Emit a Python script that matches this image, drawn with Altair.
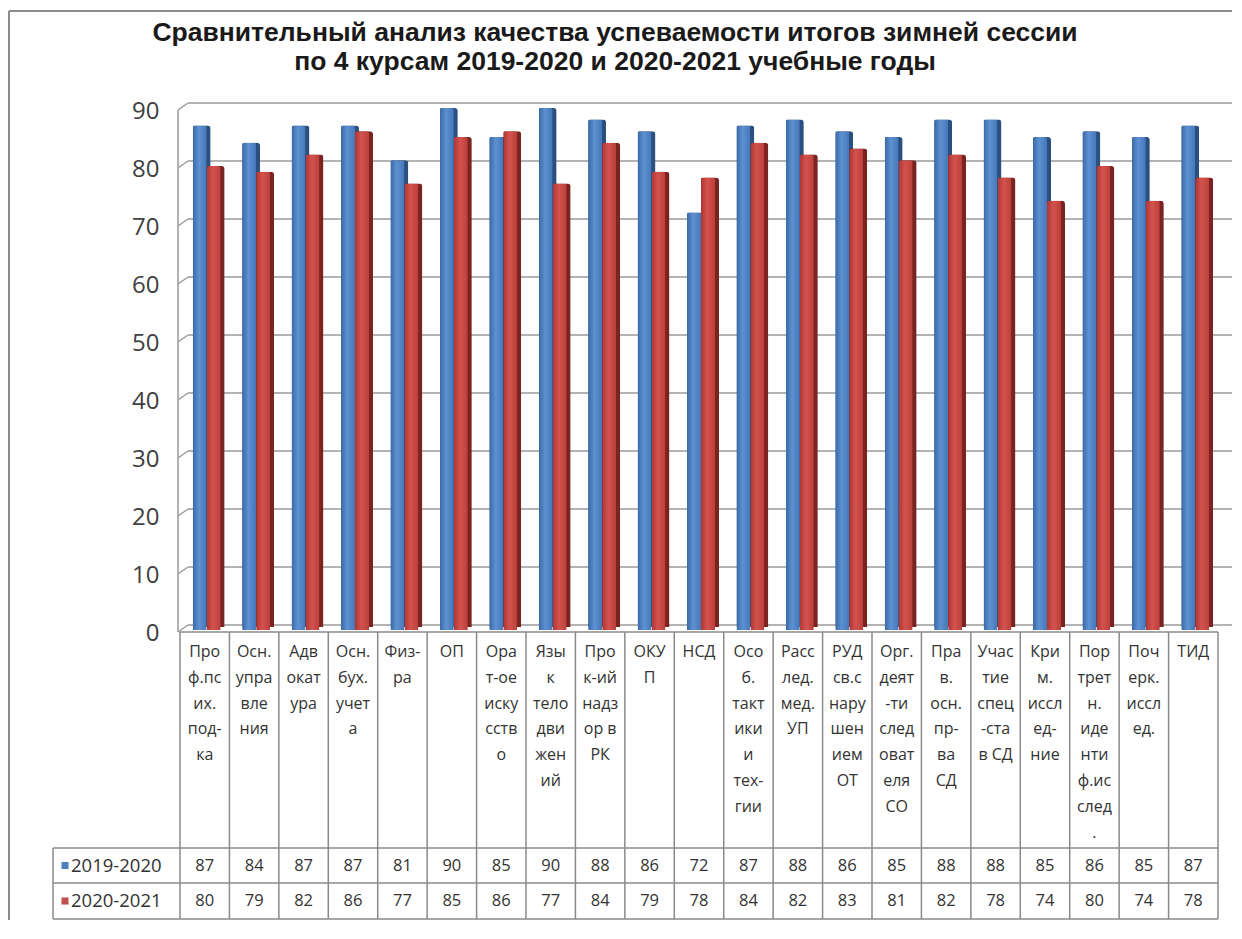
import altair as alt
import pandas as pd

title_text = ("Сравнительный анализ качества успеваемости итогов зимней сессии\n"
              "по 4 курсам 2019-2020 и 2020-2021 учебные годы")

categories = [
    "Про\nф.пс\nих.\nпод-\nка",
    "Осн.\nупра\nвле\nния",
    "Адв\nокат\nура",
    "Осн.\nбух.\nучет\nа",
    "Физ-\nра",
    "ОП",
    "Ора\nт-ое\nиску\nсств\nо",
    "Язы\nк\nтело\nдви\nжен\nий",
    "Про\nк-ий\nнадз\nор в\nРК",
    "ОКУ\nП",
    "НСД",
    "Осо\nб.\nтакт\nики\nи\nтех-\nгии",
    "Расс\nлед.\nмед.\nУП",
    "РУД\nсв.с\nнару\nшен\nием\nОТ",
    "Орг.\nдеят\n-ти\nслед\nоват\nеля\nСО",
    "Пра\nв.\nосн.\nпр-\nва\nСД",
    "Учас\nтие\nспец\n-ста\nв СД",
    "Кри\nм.\nиссл\nед-\nние",
    "Пор\nтрет\nн.\nиде\nнти\nф.ис\nслед\n.",
    "Поч\nерк.\nиссл\nед.",
    "ТИД",
]

series_names = ["2019-2020", "2020-2021"]
values_2019 = [87, 84, 87, 87, 81, 90, 85, 90, 88, 86, 72, 87, 88, 86, 85, 88, 88, 85, 86, 85, 87]
values_2020 = [80, 79, 82, 86, 77, 85, 86, 77, 84, 79, 78, 84, 82, 83, 81, 82, 78, 74, 80, 74, 78]
y_ticks = list(range(0, 91, 10))

front_colors = [
    ["#3a68a6", "#5d91d2", "#4576b8"],
    ["#ad3633", "#d4524d", "#b93f3b"],
]
side_colors = ["#2b4f80", "#7a2321"]
legend_colors = ["#4f81bd", "#c0504d"]

W = 1038
H = 522
LINE = "#8a8a8a"
TXT = "#333333"
FONT = "Open Sans"

rows = []
for s, vals in zip(series_names, [values_2019, values_2020]):
    for c, v in zip(categories, vals):
        rows.append({"cat": c, "series": s, "value": v})
df = pd.DataFrame(rows)
grid_df = pd.DataFrame({"value": y_ticks})
cat_df = pd.DataFrame({"cat": categories})
title_df = pd.DataFrame({"t": [title_text]})
legend_df = pd.DataFrame({"series": series_names, "color": legend_colors})
one = pd.DataFrame({"d": [0]})

xscale = alt.Scale(domain=categories, paddingInner=0, paddingOuter=0)
yscale = alt.Scale(domain=[0, 90], nice=False, zero=True)
yaxis = alt.Axis(values=y_ticks, title=None, domain=False, ticks=False, grid=False,
                 labelFontSize=24, labelColor="#404040", labelFont=FONT,
                 labelPadding=21, labelOffset=3)

X = alt.X("cat:N", scale=xscale, axis=None, sort=categories)
Y = alt.Y("value:Q", scale=yscale, axis=yaxis)

layers = []

# frame
layers.append(alt.Chart(one).mark_rule(color="#8c8c8c", strokeWidth=2).encode(
    x=alt.value(-171), x2=alt.value(W + 14), y=alt.value(-97)))
layers.append(alt.Chart(one).mark_rule(color="#8c8c8c", strokeWidth=2).encode(
    x=alt.value(-171), y=alt.value(-97), y2=alt.value(H + 290)))

# back wall gridlines
layers.append(alt.Chart(grid_df).mark_rule(color="#9a9a9a", strokeWidth=1.5, yOffset=-5).encode(
    x=alt.value(8), x2=alt.value(W + 15), y=Y))
layers.append(alt.Chart(grid_df).mark_rule(color="#9a9a9a", strokeWidth=1.5, yOffset=2, y2Offset=-5).encode(
    x=alt.value(-2), x2=alt.value(8), y=Y, y2="value:Q"))
layers.append(alt.Chart(one).mark_rule(color="#9a9a9a", strokeWidth=1.5).encode(
    x=alt.value(-2), y=alt.value(2), y2=alt.value(H + 2)))

# bars
front_dx = [-5, 9]
side_dx = [-3, 11]
for i, s in enumerate(series_names):
    sub = alt.Chart(df).transform_filter(alt.datum.series == s)
    layers.append(sub.mark_bar(color=side_colors[i], width=18, xOffset=side_dx[i], yOffset=-3,
                               cornerRadiusTopRight=3, cornerRadiusTopLeft=2).encode(x=X, y=Y))
for i, s in enumerate(series_names):
    sub = alt.Chart(df).transform_filter(alt.datum.series == s)
    grad = alt.Gradient(gradient="linear", x1=0, x2=1, y1=0, y2=0,
                        stops=[alt.GradientStop(offset=0, color=front_colors[i][0]),
                               alt.GradientStop(offset=0.45, color=front_colors[i][1]),
                               alt.GradientStop(offset=1, color=front_colors[i][2])])
    layers.append(sub.mark_bar(color=grad, width=14, xOffset=front_dx[i],
                               cornerRadiusTopLeft=2, cornerRadiusTopRight=2).encode(x=X, y=Y))

# data table
TOP = 524
R1 = 740
R2 = 775
R3 = 811
LEFT = -127
layers.append(alt.Chart(cat_df).mark_rule(color=LINE, strokeWidth=1.5).encode(
    x=alt.X("cat:N", scale=xscale, axis=None, sort=categories, bandPosition=0),
    y=alt.value(TOP), y2=alt.value(R3)))
layers.append(alt.Chart(one).mark_rule(color=LINE, strokeWidth=1.5).encode(
    x=alt.value(W), y=alt.value(TOP), y2=alt.value(R3)))
layers.append(alt.Chart(one).mark_rule(color=LINE, strokeWidth=1.5).encode(
    x=alt.value(LEFT), y=alt.value(R1), y2=alt.value(R3)))
layers.append(alt.Chart(one).mark_rule(color=LINE, strokeWidth=1.5).encode(
    x=alt.value(0), x2=alt.value(W), y=alt.value(TOP)))
for yy in [R1, R2, R3]:
    layers.append(alt.Chart(one).mark_rule(color=LINE, strokeWidth=1.5).encode(
        x=alt.value(LEFT), x2=alt.value(W), y=alt.value(yy)))

layers.append(alt.Chart(cat_df).mark_text(font=FONT, fontSize=16, color=TXT, lineBreak="\n",
                                          lineHeight=25.8, baseline="top", align="center").encode(
    x=X, y=alt.value(536), text="cat:N"))

row_y = [(R1 + R2) / 2, (R2 + R3) / 2]
for i, s in enumerate(series_names):
    sub = alt.Chart(df).transform_filter(alt.datum.series == s)
    layers.append(sub.mark_text(font=FONT, fontSize=16.5, color=TXT, baseline="middle").encode(
        x=X, y=alt.value(row_y[i]), text="value:Q"))
    ld = alt.Chart(legend_df).transform_filter(alt.datum.series == s)
    layers.append(ld.mark_square(size=50, opacity=1, filled=True, color=legend_colors[i]).encode(
        x=alt.value(LEFT + 12), y=alt.value(row_y[i])))
    layers.append(ld.mark_text(font=FONT, fontSize=18.5, color=TXT, baseline="middle", align="left").encode(
        x=alt.value(LEFT + 18), y=alt.value(row_y[i]), text="series:N"))

# title
layers.append(alt.Chart(title_df).mark_text(font="Liberation Sans", fontWeight="bold", fontSize=26.5,
                                            color="#1a1a1a", lineBreak="\n", lineHeight=29,
                                            baseline="middle", align="center").encode(
    x=alt.value(435), y=alt.value(-75), text="t:N"))

chart = alt.layer(*layers).properties(
    width=W, height=H,
    autosize=alt.AutoSizeParams(type="none"),
    padding={"left": 172, "top": 100, "right": 14, "bottom": 290},
    background="white",
).configure_view(stroke=None)

chart.save("out.html", embed_options={"renderer": "svg", "actions": False})
